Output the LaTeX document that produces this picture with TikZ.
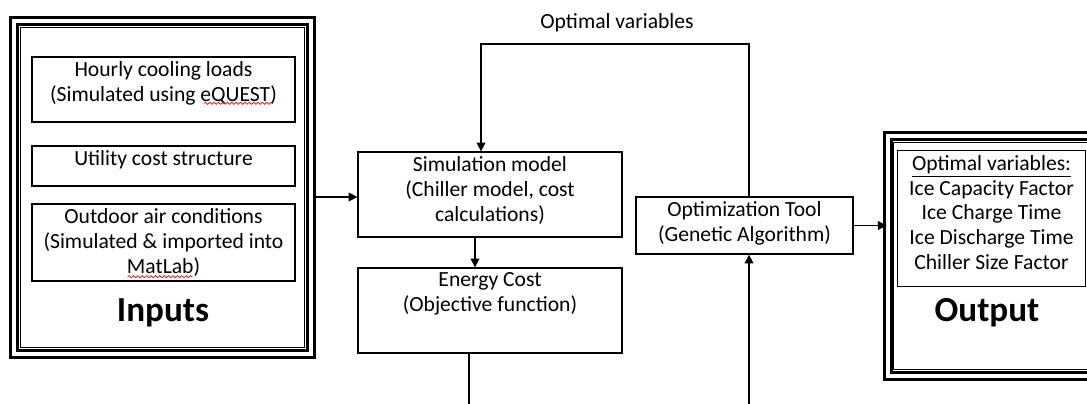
\documentclass[tikz,border=0pt]{standalone}
\usepackage{fontspec}
\setmainfont{Carlito}
\usetikzlibrary{arrows.meta,decorations.pathmorphing}

\begin{document}
\begin{tikzpicture}[x=0.02cm, y=-0.02cm,
	box/.style={draw, line width=0.75pt, inner sep=0pt},
	txt/.style={align=center, inner sep=0pt, font=\fontsize{12.3}{14.2}\selectfont},
	big/.style={inner sep=0pt, font=\fontsize{20}{24}\selectfont\bfseries},
	frame/.style={draw, double, line width=1.5pt, double distance=2.5pt, inner sep=0pt},
	arr/.style={line width=0.75pt, -{Triangle[length=5pt,width=5pt]}},
	line/.style={line width=0.75pt},
	spell/.style={red, line width=0.4pt, decorate, decoration={snake, amplitude=0.6pt, segment length=2.5pt}}]
\useasboundingbox (0,0) rectangle (1087,404);

\node[frame, minimum width=5.95cm, minimum height=6.66cm] (inputs) at (162.5,187.3) {};
\node[box, line width=0.5pt, minimum width=5.68cm, minimum height=6.39cm] (inputsin) at (162.5,187.3) {};

\node[box, minimum width=5.26cm, minimum height=1.3cm] (hourly) at (163.5,89.5) {};
\node[box, minimum width=5.26cm, minimum height=0.8cm] (utility) at (163.5,166) {};
\node[box, minimum width=5.26cm, minimum height=1.54cm] (outdoor) at (163.5,242.5) {};
\node[txt, anchor=north, yshift=-3pt] (hourlyt) at (hourly.north) {Hourly cooling loads\\(Simulated using eQUEST)};
\node[txt, anchor=north, yshift=-3pt] (utilityt) at (utility.north) {Utility cost structure};
\node[txt, anchor=north, yshift=-3pt] (outdoort) at (outdoor.north) {Outdoor air conditions\\(Simulated \& imported into\\MatLab)};
\node[big] (inputst) at (163,313) {Inputs};

\node[box, minimum width=5.28cm, minimum height=1.7cm] (sim) at (490,194.5) {};
\node[box, minimum width=5.28cm, minimum height=1.7cm] (ecost) at (490,310.5) {};
\node[txt, anchor=north, yshift=-3pt] (simt) at (sim.north) {Simulation model\\(Chiller model, cost\\calculations)};
\node[txt, anchor=north, yshift=-3pt] (ecostt) at (ecost.north) {Energy Cost\\(Objective function)};

\node[box, minimum width=4.34cm, minimum height=1.14cm] (opt) at (744.5,225.5) {};
\node[txt] (optt) at (744.5,223) {Optimization Tool\\(Genetic Algorithm)};

\node[txt] (optlab) at (617,23) {Optimal variables};

\node[frame, minimum width=4.24cm, minimum height=4.8cm] (output) at (994,256) {};
\node[box, line width=0.5pt, minimum width=4.03cm, minimum height=4.54cm] (outputin) at (994.25,256) {};
\node[box, minimum width=3.77cm, minimum height=2.72cm] (vars) at (991.5,218.7) {};
\node[txt, anchor=north, yshift=-3pt, font=\fontsize{12.3}{14}\selectfont] (varst) at (vars.north) {\underline{Optimal variables:}\\Ice Capacity Factor\\Ice Charge Time\\Ice Discharge Time\\Chiller Size Factor};
\node[big] (outputt) at (987,313) {Output};

% spell check marks
\draw[spell] (204,103.3) -- (272.7,103.3);
\draw[spell] (127.7,276.7) -- (192.7,276.7);

\coordinate (se) at (475,237);
\coordinate (edown) at (469,404);
\coordinate (oup) at (749,404);
\coordinate (ltop) at (481,44);

\draw[arr] (inputs.east |- 0,197) -- (sim.west |- 0,197);
\draw[arr] (se) -- (se |- ecost.north);
\draw[line] (edown |- ecost.south) -- (edown);
\draw[arr] (oup) -- (oup |- opt.south);
\draw[arr] (oup |- opt.north) -- (oup |- ltop) -- (ltop) -- (ltop |- sim.north);
\draw[arr] (opt.east) -- (output.west |- opt.east);
\end{tikzpicture}
\end{document}
